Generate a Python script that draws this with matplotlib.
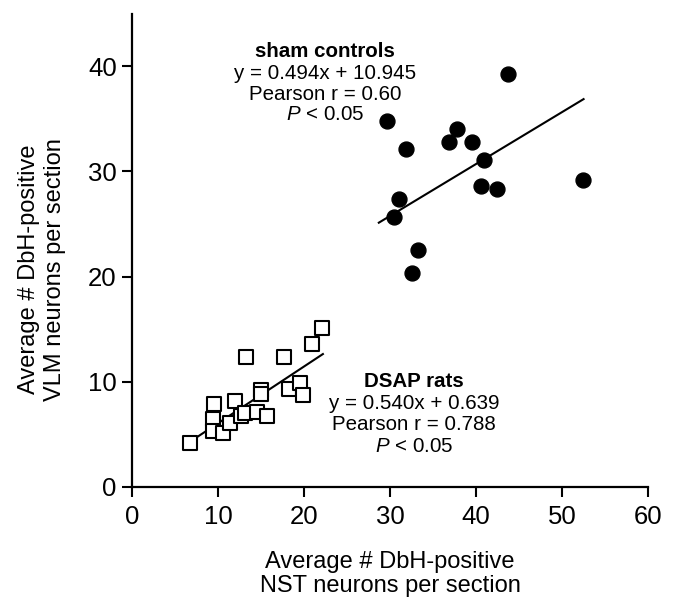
import matplotlib
matplotlib.use("Agg")
import matplotlib.pyplot as plt
import numpy as np

plt.rcParams["font.family"] = ["Liberation Sans", "DejaVu Sans"]
plt.rcParams["mathtext.fontset"] = "custom"
plt.rcParams["mathtext.rm"] = "Liberation Sans"
plt.rcParams["mathtext.it"] = "Liberation Sans:italic"

# sham controls (filled circles)
sham_x = [29.7, 43.7, 31.9, 36.8, 37.8, 39.5, 40.9, 40.6, 42.4, 52.4, 31.1, 30.5, 33.3, 32.5]
sham_y = [34.8, 39.3, 32.1, 32.8, 34.0, 32.8, 31.1, 28.6, 28.3, 29.2, 27.4, 25.7, 22.5, 20.3]
sham_fit = (0.494, 10.945)
sham_fit_x = [28.7, 52.5]

# DSAP rats (open squares)
dsap_x = [6.8, 9.5, 9.4, 9.4, 10.6, 11.4, 12.0, 12.7, 13.1, 13.3, 14.5, 15.0, 15.0,
          15.7, 17.7, 18.3, 19.5, 19.9, 20.9, 22.1]
dsap_y = [4.2, 7.9, 6.4, 5.3, 5.1, 6.1, 8.2, 6.7, 7.0, 12.3, 7.1, 9.2, 8.8,
          6.7, 12.3, 9.3, 9.9, 8.7, 13.6, 15.1]
dsap_fit = (0.540, 0.639)
dsap_fit_x = [6.8, 22.2]

sham_text = ["sham controls", "y = 0.494x + 10.945", "Pearson r = 0.60", r"$\mathit{P}$ < 0.05"]
dsap_text = ["DSAP rats", "y = 0.540x + 0.639", "Pearson r = 0.788", r"$\mathit{P}$ < 0.05"]

fig = plt.figure(figsize=(6.73, 5.98), dpi=100)
ax = fig.add_axes([0.196, 0.186, 0.767, 0.791])

# regression lines from the printed equations
for fx, (m, b) in ((sham_fit_x, sham_fit), (dsap_fit_x, dsap_fit)):
    fx = np.array(fx)
    ax.plot(fx, m * fx + b, color="black", lw=1.5, zorder=2)

ax.scatter(sham_x, sham_y, s=115, color="black", zorder=3)
ax.scatter(dsap_x, dsap_y, s=100, marker="s", facecolor="white",
           edgecolor="black", linewidths=1.5, zorder=3)

ax.set_xlim(0, 60)
ax.set_ylim(0, 45)
ax.set_xticks(range(0, 61, 10))
ax.set_yticks(range(0, 41, 10))
ax.spines["top"].set_visible(False)
ax.spines["right"].set_visible(False)
ax.spines["left"].set_linewidth(1.6)
ax.spines["bottom"].set_linewidth(1.6)
ax.tick_params(labelsize=18.5, width=1.5, length=7)
ax.tick_params(axis="x", pad=6)
ax.tick_params(axis="y", pad=4)

ax.set_xlabel("Average # DbH-positive\nNST neurons per section", fontsize=17, linespacing=1.15)
ax.set_ylabel("Average # DbH-positive\nVLM neurons per section", fontsize=17, linespacing=1.2)
ax.xaxis.set_label_coords(0.5, -0.135)
ax.yaxis.set_label_coords(-0.128, 0.459)

tk = dict(ha="center", va="center", fontsize=14.8)
for i, (s, y) in enumerate(zip(sham_text, [41.4, 39.3, 37.3, 35.4])):
    ax.text(22.45, y, s, fontweight="bold" if i == 0 else "normal", **tk)
for i, (s, y) in enumerate(zip(dsap_text, [10.0, 7.9, 5.9, 3.8])):
    ax.text(32.8, y, s, fontweight="bold" if i == 0 else "normal", **tk)

fig.savefig("out.png", dpi=100)
